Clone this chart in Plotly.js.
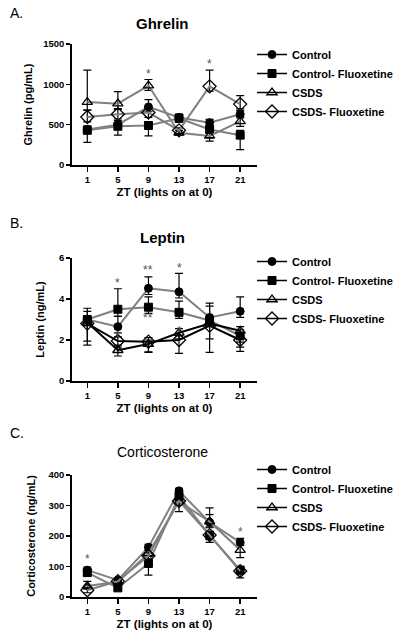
<!DOCTYPE html>
<html>
<head>
<meta charset="utf-8">
<script src="https://cdn.plot.ly/plotly-3.0.1.min.js"></script>
<style>
html,body{margin:0;padding:0;background:#fff;}
#chart{width:400px;height:633px;}
</style>
</head>
<body>
<div id="chart"></div>
<script>
// ---------- data ----------
const ZT = [1, 5, 9, 13, 17, 21];
const groupNames = ["Control", "Control- Fluoxetine", "CSDS", "CSDS- Fluoxetine"];
const xTickVals = [1, 5, 9, 13, 17, 21];
const xTickText = ["1", "5", "9", "13", "17", "21"];

// Ghrelin (pg/mL)
const ghrControl      = [440, 500, 720, 590, 525, 630];
const ghrControlUp    = [45, 50, 90, 40, 40, 45];
const ghrControlDn    = [45, 50, 60, 40, 40, 45];
const ghrCtrlFlx      = [430, 480, 490, 580, 440, 370];
const ghrCtrlFlxUp    = [40, 40, 40, 40, 40, 60];
const ghrCtrlFlxDn    = [150, 110, 130, 50, 100, 180];
const ghrCSDS         = [780, 760, 985, 400, 360, 540];
const ghrCSDSUp       = [395, 150, 75, 30, 40, 60];
const ghrCSDSDn       = [100, 60, 60, 30, 65, 60];
const ghrCSDSFlx      = [595, 630, 650, 430, 975, 755];
const ghrCSDSFlxUp    = [85, 60, 60, 30, 200, 105];
const ghrCSDSFlxDn    = [60, 60, 60, 40, 60, 60];
const ghrSigX = [9, 17];
const ghrSigY = [1130, 1255];
const ghrSigText = ["*", "*"];

// Leptin (ng/mL)
const lepControl      = [3.0, 2.65, 4.52, 4.35, 3.1, 3.4];
const lepControlUp    = [0.55, 0.5, 0.56, 0.9, 0.7, 0.7];
const lepControlDn    = [0.3, 0.3, 0.3, 0.3, 0.3, 0.3];
const lepCtrlFlx      = [3.0, 3.5, 3.6, 3.35, 2.95, 2.2];
const lepCtrlFlxUp    = [0.4, 1.0, 0.5, 0.55, 0.7, 0.3];
const lepCtrlFlxDn    = [0.3, 0.35, 0.3, 0.3, 0.3, 0.3];
const lepCSDS         = [2.85, 1.5, 1.8, 2.35, 2.8, 2.45];
const lepCSDSUp       = [0.3, 0.25, 0.2, 0.2, 0.3, 0.2];
const lepCSDSDn       = [0.9, 0.28, 0.4, 0.3, 0.75, 0.8];
const lepCSDSFlx      = [2.8, 1.95, 1.92, 2.0, 2.7, 2.0];
const lepCSDSFlxUp    = [0.3, 0.2, 0.2, 0.2, 0.3, 0.2];
const lepCSDSFlxDn    = [1.05, 0.3, 0.5, 0.65, 1.3, 0.55];
const lepSigX = [5, 9, 13, 9, 13, 5];
const lepSigY = [4.8, 5.4, 5.5, 3.05, 2.45, 2.2];
const lepSigText = ["*", "**", "*", "**", "*", "*"];

// Corticosterone (ng/mL)
const corControl      = [88, 55, 163, 348, 245, 179];
const corControlUp    = [10, 8, 10, 8, 25, 13];
const corControlDn    = [10, 8, 10, 8, 15, 10];
const corCtrlFlx      = [80, 30, 110, 330, 203, 88];
const corCtrlFlxUp    = [10, 8, 10, 10, 10, 10];
const corCtrlFlxDn    = [10, 8, 38, 15, 15, 12];
const corCSDS         = [36, 50, 143, 313, 247, 154];
const corCSDSUp       = [15, 8, 10, 10, 45, 15];
const corCSDSDn       = [10, 8, 10, 33, 20, 25];
const corCSDSFlx      = [22, 52, 135, 315, 203, 85];
const corCSDSFlxUp    = [8, 8, 10, 10, 10, 10];
const corCSDSFlxDn    = [8, 8, 10, 15, 24, 22];
const corSigX = [1, 21];
const corSigY = [126, 214];
const corSigText = ["*", "*"];

// ---------- styles ----------
const GRAY = "#808080";
const markerStyles = [
  {symbol: "circle", size: 8, color: "#000", line: {color: "#000", width: 1}},
  {symbol: "square", size: 8, color: "#000", line: {color: "#000", width: 1}},
  {symbol: "triangle-up-open", size: 9, color: "#000", line: {color: "#000", width: 1.3}},
  {symbol: "diamond-open", size: 10, color: "#000", line: {color: "#000", width: 1.3}}
];

function series(yv, up, dn, k, xa, ya, lineColor) {
  return {
    type: "scatter", mode: "lines+markers",
    x: ZT, y: yv, xaxis: xa, yaxis: ya,
    name: groupNames[k], showlegend: false,
    line: {color: lineColor, width: 2},
    marker: markerStyles[k],
    error_y: {type: "data", symmetric: false, array: up, arrayminus: dn,
              color: "#000", thickness: 1.2, width: 4},
    cliponaxis: false
  };
}
function legendTrace(k, xa, ya, leg) {
  return {
    type: "scatter", mode: "lines+markers",
    x: [null], y: [null], xaxis: xa, yaxis: ya,
    name: groupNames[k], legend: leg, showlegend: true,
    line: {color: "#000", width: 1.5},
    marker: markerStyles[k]
  };
}

const traces = [];
// Ghrelin
traces.push(series(ghrControl, ghrControlUp, ghrControlDn, 0, "x", "y", GRAY));
traces.push(series(ghrCtrlFlx, ghrCtrlFlxUp, ghrCtrlFlxDn, 1, "x", "y", GRAY));
traces.push(series(ghrCSDS, ghrCSDSUp, ghrCSDSDn, 2, "x", "y", GRAY));
traces.push(series(ghrCSDSFlx, ghrCSDSFlxUp, ghrCSDSFlxDn, 3, "x", "y", GRAY));
// Leptin
traces.push(series(lepControl, lepControlUp, lepControlDn, 0, "x2", "y2", GRAY));
traces.push(series(lepCtrlFlx, lepCtrlFlxUp, lepCtrlFlxDn, 1, "x2", "y2", GRAY));
traces.push(series(lepCSDS, lepCSDSUp, lepCSDSDn, 2, "x2", "y2", "#000"));
traces.push(series(lepCSDSFlx, lepCSDSFlxUp, lepCSDSFlxDn, 3, "x2", "y2", "#000"));
// Corticosterone
traces.push(series(corControl, corControlUp, corControlDn, 0, "x3", "y3", GRAY));
traces.push(series(corCtrlFlx, corCtrlFlxUp, corCtrlFlxDn, 1, "x3", "y3", GRAY));
traces.push(series(corCSDS, corCSDSUp, corCSDSDn, 2, "x3", "y3", GRAY));
traces.push(series(corCSDSFlx, corCSDSFlxUp, corCSDSFlxDn, 3, "x3", "y3", GRAY));
// legends
for (let k = 0; k < 4; k++) traces.push(legendTrace(k, "x", "y", "legend"));
for (let k = 0; k < 4; k++) traces.push(legendTrace(k, "x2", "y2", "legend2"));
for (let k = 0; k < 4; k++) traces.push(legendTrace(k, "x3", "y3", "legend3"));

// ---------- layout ----------
const H = 633, W = 400;
const FONT = "Arial, Liberation Sans, sans-serif";
const xDom = [72 / W, 257 / W];
function yDom(bottomPx, topPx) { return [(H - bottomPx) / H, (H - topPx) / H]; }

function xAxis(anchor) {
  return {
    domain: xDom, anchor: anchor, range: [-1, 23.2],
    tickvals: xTickVals, ticktext: xTickText,
    ticks: "outside", ticklen: 5, tickwidth: 1.5, tickcolor: "#000",
    showline: true, linecolor: "#000", linewidth: 1.8,
    showgrid: false, zeroline: false,
    tickfont: {family: FONT, size: 9.5, color: "#000", weight: "bold"},
    title: {text: "ZT (lights on at 0)", standoff: 4,
            font: {family: FONT, size: 11.5, color: "#000", weight: "bold"}}
  };
}
function yAxis(anchor, dom, range, dtick, title, standoff) {
  return {
    domain: dom, anchor: anchor, range: range, dtick: dtick, tick0: 0,
    ticks: "outside", ticklen: 4, tickwidth: 1.5, tickcolor: "#000",
    showline: true, linecolor: "#000", linewidth: 1.8,
    showgrid: false, zeroline: false,
    tickfont: {family: FONT, size: 9.5, color: "#000", weight: "bold"},
    title: {text: title, standoff: standoff,
            font: {family: FONT, size: 11, color: "#000", weight: "bold"}}
  };
}

function legendAt(topPx) {
  return {
    x: 252 / W, xanchor: "left", y: (H - topPx) / H, yanchor: "top",
    bgcolor: "rgba(0,0,0,0)", borderwidth: 0, itemwidth: 30,
    font: {family: FONT, size: 11, color: "#000", weight: "bold"},
    tracegroupgap: 0, itemclick: false
  };
}

function sigAnnots(xs, ys, ts, xr, yr) {
  return xs.map((v, i) => ({
    x: v, y: ys[i], xref: xr, yref: yr, text: ts[i], showarrow: false,
    font: {family: FONT, size: 12, color: "#555"}, yanchor: "middle"
  }));
}

const annotations = []
  .concat(sigAnnots(ghrSigX, ghrSigY, ghrSigText, "x", "y"))
  .concat(sigAnnots(lepSigX, lepSigY, lepSigText, "x2", "y2"))
  .concat(sigAnnots(corSigX, corSigY, corSigText, "x3", "y3"))
  .concat([
    {text: "A.", x: 8 / W, y: (H - 13) / H, xref: "paper", yref: "paper", xanchor: "left", yanchor: "middle", showarrow: false, font: {family: FONT, size: 14, color: "#000"}},
    {text: "B.", x: 8 / W, y: (H - 223) / H, xref: "paper", yref: "paper", xanchor: "left", yanchor: "middle", showarrow: false, font: {family: FONT, size: 14, color: "#000"}},
    {text: "C.", x: 8 / W, y: (H - 433) / H, xref: "paper", yref: "paper", xanchor: "left", yanchor: "middle", showarrow: false, font: {family: FONT, size: 14, color: "#000"}},
    {text: "Ghrelin", x: 162 / W, y: (H - 23) / H, xref: "paper", yref: "paper", xanchor: "center", yanchor: "middle", showarrow: false, font: {family: FONT, size: 15, color: "#000", weight: "bold"}},
    {text: "Leptin", x: 162 / W, y: (H - 237) / H, xref: "paper", yref: "paper", xanchor: "center", yanchor: "middle", showarrow: false, font: {family: FONT, size: 15, color: "#000", weight: "bold"}},
    {text: "Corticosterone", x: 162 / W, y: (H - 452) / H, xref: "paper", yref: "paper", xanchor: "center", yanchor: "middle", showarrow: false, font: {family: FONT, size: 14, color: "#000"}}
  ]);

const layout = {
  width: W, height: H,
  margin: {l: 0, r: 0, t: 0, b: 0},
  paper_bgcolor: "#fff", plot_bgcolor: "#fff",
  font: {family: FONT, color: "#000"},
  xaxis: xAxis("y"),
  yaxis: yAxis("x", yDom(165, 44), [0, 1500], 500, "Ghrelin (pg/mL)", 8),
  xaxis2: xAxis("y2"),
  yaxis2: yAxis("x2", yDom(381, 258), [0, 6], 2, "Leptin (ng/mL)", 12),
  xaxis3: xAxis("y3"),
  yaxis3: yAxis("x3", yDom(597, 475), [0, 400], 100, "Corticosterone (ng/mL)", 10),
  legend: legendAt(40),
  legend2: legendAt(247),
  legend3: legendAt(455),
  annotations: annotations,
  showlegend: true
};

Plotly.newPlot("chart", traces, layout, {displayModeBar: false, staticPlot: true});
</script>
</body>
</html>
